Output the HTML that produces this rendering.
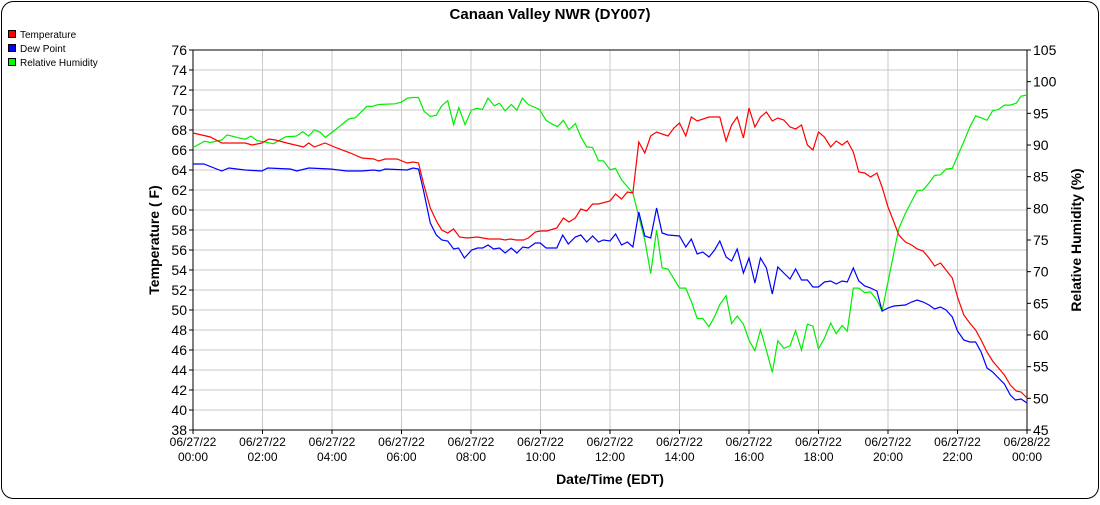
<!DOCTYPE html>
<html><head><meta charset="utf-8"><style>
body{margin:0;background:#fff;font-family:"Liberation Sans",sans-serif}
svg text{font-family:"Liberation Sans",sans-serif}
</style></head><body>
<svg id="chart" width="1100" height="500" xmlns="http://www.w3.org/2000/svg">
<rect x="1.5" y="1.5" width="1097" height="497" rx="12" fill="#fff" stroke="#000" stroke-width="1"/>
<text x="550" y="19" text-anchor="middle" font-size="15" font-weight="bold">Canaan Valley NWR (DY007)</text>
<g font-size="10">
<g><rect x="8.5" y="30.5" width="7" height="7" fill="#f00" stroke="#000"/><text x="20" y="38">Temperature</text></g>
<g><rect x="8.5" y="44.5" width="7" height="7" fill="#00f" stroke="#000"/><text x="20" y="52">Dew Point</text></g>
<g><rect x="8.5" y="58.5" width="7" height="7" fill="#0f0" stroke="#000"/><text x="20" y="66">Relative Humidity</text></g>
</g>
<g id="grid"></g>
<g id="axes"></g>
<g id="series"></g>
<text x="610" y="484" text-anchor="middle" font-size="14" font-weight="bold">Date/Time (EDT)</text>
<text transform="translate(159,240) rotate(-90)" text-anchor="middle" font-size="14" font-weight="bold">Temperature ( F)</text>
<text transform="translate(1081,240) rotate(-90)" text-anchor="middle" font-size="14" font-weight="bold">Relative Humidity (%)</text>
</svg>
<script>
const tempHours=[0,0.5,0.83,1.5,1.7,1.98,2.18,2.37,2.7,3.18,3.33,3.49,3.8,4.14,4.53,4.86,5.2,5.34,5.53,5.87,6.16,6.33,6.49,6.63,6.83,7.02,7.16,7.33,7.5,7.67,7.88,8.19,8.5,8.84,8.98,9.13,9.3,9.51,9.65,9.85,9.99,10.18,10.47,10.66,10.82,11.0,11.16,11.33,11.5,11.67,12.0,12.16,12.33,12.5,12.66,12.83,13.0,13.17,13.34,13.67,13.84,14.0,14.18,14.34,14.51,14.85,15.16,15.34,15.5,15.66,15.84,16.0,16.17,16.33,16.5,16.67,16.83,17.0,17.18,17.34,17.51,17.68,17.84,18.0,18.17,18.35,18.51,18.68,18.83,19.0,19.16,19.33,19.5,19.68,19.83,20.0,20.17,20.31,20.5,20.68,20.84,21.01,21.18,21.34,21.51,21.67,21.85,22.0,22.18,22.35,22.52,22.68,22.85,23.01,23.18,23.35,23.52,23.69,23.83,24.0];
const tempValues=[67.7,67.3,66.7,66.7,66.5,66.7,67.1,67.0,66.7,66.3,66.7,66.3,66.7,66.2,65.7,65.2,65.1,64.9,65.1,65.1,64.7,64.8,64.7,62.7,60.2,58.8,58.0,57.7,58.1,57.3,57.2,57.3,57.1,57.1,57.0,57.1,57.0,57.0,57.2,57.8,57.9,57.9,58.2,59.2,58.8,59.2,60.1,59.9,60.6,60.6,60.9,61.6,61.1,61.8,61.7,66.8,65.7,67.4,67.8,67.4,68.2,68.7,67.4,69.3,68.9,69.3,69.3,66.9,68.5,69.3,67.2,70.2,68.3,69.3,69.8,68.9,69.2,69.0,68.3,68.1,68.5,66.5,66.0,67.8,67.3,66.3,66.9,66.5,66.9,65.8,63.8,63.7,63.3,63.7,62.3,60.3,58.8,57.5,56.8,56.5,56.1,55.9,55.2,54.4,54.7,54.0,53.2,51.3,49.5,48.7,48.0,47.0,45.8,44.9,44.2,43.5,42.5,41.9,41.8,41.2];
const dewHours=[0,0.31,0.83,1.03,1.5,1.98,2.15,2.8,2.99,3.33,3.95,4.43,4.86,5.2,5.37,5.53,6.16,6.33,6.49,6.63,6.83,7.0,7.16,7.33,7.5,7.64,7.81,8.02,8.19,8.34,8.49,8.65,8.82,8.98,9.16,9.32,9.49,9.65,9.85,9.99,10.16,10.47,10.64,10.8,11.0,11.16,11.33,11.5,11.67,11.81,12.0,12.16,12.33,12.5,12.66,12.83,13.0,13.17,13.34,13.5,13.67,14.0,14.18,14.34,14.51,14.67,14.85,15.01,15.16,15.34,15.5,15.66,15.84,16.0,16.17,16.33,16.5,16.67,16.83,17.0,17.18,17.34,17.51,17.68,17.84,18.0,18.17,18.35,18.51,18.68,18.83,19.0,19.16,19.33,19.5,19.68,19.83,20.0,20.17,20.5,20.68,20.84,21.01,21.18,21.34,21.51,21.67,21.85,22.0,22.18,22.35,22.52,22.68,22.85,23.01,23.18,23.35,23.52,23.67,23.83,24.0];
const dewValues=[64.6,64.6,63.9,64.2,64.0,63.9,64.2,64.1,63.9,64.2,64.1,63.9,63.9,64.0,63.9,64.1,64.0,64.2,64.1,62.0,58.7,57.5,57.0,56.9,56.1,56.2,55.2,56.0,56.2,56.2,56.5,56.1,56.2,55.7,56.2,55.7,56.3,56.2,56.7,56.7,56.2,56.2,57.5,56.6,57.3,57.5,56.8,57.4,56.8,57.0,56.9,57.6,56.5,56.8,56.3,59.8,57.4,57.2,60.2,57.7,57.5,57.4,56.3,57.1,55.6,55.8,55.3,56.0,56.9,55.3,54.9,56.1,53.7,55.2,52.7,55.2,54.2,51.6,54.3,53.7,53.1,54.1,53.0,53.0,52.3,52.3,52.8,52.9,52.6,52.9,52.8,54.2,52.9,52.4,52.2,51.9,49.9,50.2,50.4,50.5,50.8,51.0,50.8,50.5,50.1,50.3,50.0,49.3,47.9,47.0,46.8,46.8,45.8,44.2,43.8,43.2,42.6,41.5,41.0,41.1,40.7];
const rhHours=[0,0.33,0.5,0.83,0.98,1.5,1.67,1.84,2.32,2.66,2.97,3.16,3.33,3.49,3.66,3.81,4.14,4.48,4.67,5.0,5.15,5.34,5.82,6.01,6.17,6.33,6.49,6.65,6.83,7.0,7.16,7.33,7.5,7.65,7.83,8.01,8.17,8.33,8.49,8.67,8.82,8.98,9.16,9.32,9.48,9.65,9.97,10.16,10.33,10.49,10.66,10.82,11.0,11.16,11.33,11.5,11.67,11.81,12.0,12.16,12.33,12.5,12.66,12.83,13.0,13.17,13.34,13.5,13.67,14.0,14.18,14.34,14.51,14.67,14.85,15.01,15.16,15.34,15.5,15.66,15.84,16.0,16.17,16.33,16.5,16.67,16.83,17.0,17.18,17.34,17.51,17.68,17.84,18.0,18.17,18.35,18.51,18.68,18.83,19.0,19.16,19.33,19.5,19.68,19.83,20.31,20.5,20.68,20.84,21.01,21.18,21.34,21.51,21.67,21.85,22.0,22.18,22.35,22.52,22.68,22.85,23.01,23.18,23.35,23.52,23.69,23.83,24.0];
const rhValues=[89.6,90.6,90.4,90.8,91.6,90.9,91.4,90.7,90.2,91.3,91.4,92.1,91.4,92.4,92.0,91.2,92.6,94.1,94.3,96.1,96.1,96.4,96.5,96.8,97.4,97.5,97.5,95.3,94.5,94.7,96.2,97.0,93.2,95.9,93.2,95.5,95.8,95.6,97.4,96.2,96.6,95.4,96.4,95.5,97.4,96.4,95.6,93.9,93.3,92.9,93.9,92.4,93.4,91.3,89.7,89.6,87.5,87.5,86.1,86.3,84.5,83.4,82.4,78.7,75.0,69.7,76.6,70.6,70.4,67.4,67.4,65.3,62.6,62.6,61.3,62.9,64.8,66.2,61.8,63.0,61.7,59.2,57.5,60.8,57.6,54.1,59.1,57.9,58.3,60.7,57.6,61.7,61.4,57.8,59.5,61.9,60.2,61.5,60.6,67.4,67.4,66.7,66.8,65.5,63.8,76.8,79.2,81.1,82.8,82.9,84.0,85.2,85.3,86.2,86.3,88.2,90.5,92.8,94.6,94.3,93.9,95.4,95.6,96.3,96.3,96.6,97.7,97.9];
const tempTicks=[38,40,42,44,46,48,50,52,54,56,58,60,62,64,66,68,70,72,74,76];
const rhTicks=[45,50,55,60,65,70,75,80,85,90,95,100,105];
const xTickHours=[0,2,4,6,8,10,12,14,16,18,20,22,24];
const xTickDates=["06/27/22","06/27/22","06/27/22","06/27/22","06/27/22","06/27/22","06/27/22","06/27/22","06/27/22","06/27/22","06/27/22","06/27/22","06/28/22"];
const xTickTimes=["00:00","02:00","04:00","06:00","08:00","10:00","12:00","14:00","16:00","18:00","20:00","22:00","00:00"];

const L=193,R=1027,T=50,B=430;
const NS="http://www.w3.org/2000/svg";
const xs=h=>L+(h/24)*(R-L);
const yT=v=>B-(v-38)/(76-38)*(B-T);
const yH=v=>B-(v-45)/(105-45)*(B-T);
function mk(tag,attrs,parent){const e=document.createElementNS(NS,tag);for(const k in attrs)e.setAttribute(k,attrs[k]);parent.appendChild(e);return e;}
const grid=document.getElementById('grid'),axes=document.getElementById('axes'),ser=document.getElementById('series');
tempTicks.forEach(v=>{
  const y=yT(v);
  const g=mk('line',{x1:L,x2:R,y1:y,y2:y,stroke:'#c8c8c8','stroke-width':1},grid);
  
  
  const t=mk('line',{x1:L-4,x2:L,y1:y,y2:y,stroke:'#000'},axes);
  
  
  const tx=mk('text',{x:L-6,y:y+5,'text-anchor':'end','font-size':14},axes);
  tx.textContent=v;
  
  
});
rhTicks.forEach(v=>{
  const y=yH(v);
  const t=mk('line',{x1:R,x2:R+4,y1:y,y2:y,stroke:'#000'},axes);
  
  
  const tx=mk('text',{x:R+6,y:y+5,'text-anchor':'start','font-size':14},axes);
  tx.textContent=v;
  
  
});
xTickHours.forEach((h,i)=>{
  const x=xs(h);
  const g=mk('line',{x1:x,x2:x,y1:T,y2:B,stroke:'#c8c8c8'},grid);
  
  
  const t=mk('line',{x1:x,x2:x,y1:B,y2:B+4,stroke:'#000'},axes);
  
  
  const a=mk('text',{x:x,y:446,'text-anchor':'middle','font-size':12},axes);
  a.textContent=xTickDates[i];
  
  
  const b=mk('text',{x:x,y:461,'text-anchor':'middle','font-size':12},axes);
  b.textContent=xTickTimes[i];
  
  
});
const frame=mk('rect',{x:L,y:T,width:R-L,height:B-T,fill:'none',stroke:'#000'},axes);


function line(hs,vs,yf,color,name){
  const p=mk('polyline',{points:hs.map((h,i)=>xs(h).toFixed(1)+','+yf(vs[i]).toFixed(1)).join(' '),fill:'none',stroke:color,'stroke-width':1.2},ser);
  
  
}
line(rhHours,rhValues,yH,'#00ee00','relative-humidity-line');
line(dewHours,dewValues,yT,'#0000ff','dew-point-line');
line(tempHours,tempValues,yT,'#ff0000','temperature-line');
</script>
</body></html>
